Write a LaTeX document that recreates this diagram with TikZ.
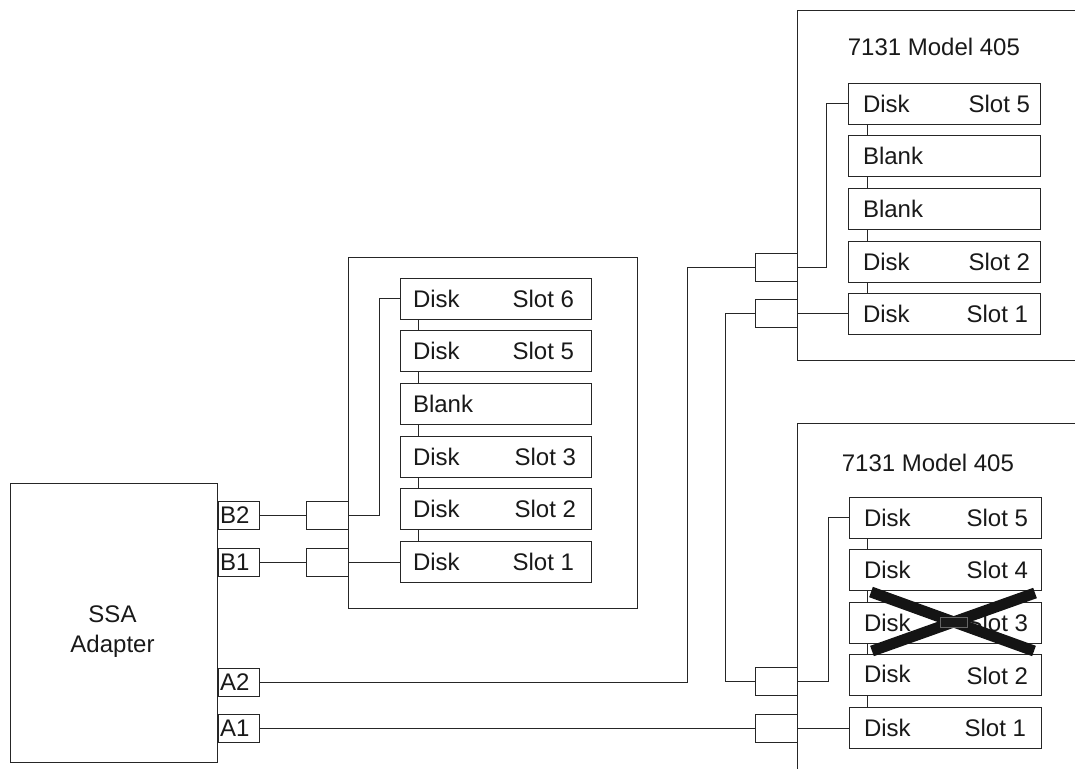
\documentclass[tikz,border=0pt]{standalone}
\usepackage{fontspec}
\setmainfont{Liberation Sans}
\begin{document}
\begin{tikzpicture}[x=1pt,y=-1pt,line width=1pt,
  every node/.style={font=\fontsize{24}{30}\selectfont, text=black!90},
  slotbox/.style={draw=black!85, minimum width=192, minimum height=41, inner sep=0pt},
  portbox/.style={draw=black!85, minimum width=41, minimum height=28, inner sep=0pt, anchor=west},
  connbox/.style={draw=black!85, minimum width=42, minimum height=28, inner sep=0pt},
  wire/.style={draw=black!85, line width=1pt}]
\useasboundingbox (0,0) rectangle (1075,769);
% SSA adapter
\node[draw=black!85, minimum width=207, minimum height=279, inner sep=0pt] (ssa) at (113.5,622.5) {};
\node[align=center] (ssatxt) at (112.5,632) {SSA\\Adapter};
\node[portbox] (B2) at (ssa.east |- 0,515) {\makebox[41pt][l]{\hspace{2pt}B2}};
\node[portbox] (B1) at (ssa.east |- 0,562) {\makebox[41pt][l]{\hspace{2pt}B1}};
\node[portbox] (A2) at (ssa.east |- 0,682) {\makebox[41pt][l]{\hspace{2pt}A2}};
\node[portbox] (A1) at (ssa.east |- 0,728) {\makebox[41pt][l]{\hspace{2pt}A1}};
% middle enclosure
\draw[wire] (348,257) rectangle (637,608);
\node[connbox] (cB2) at (327.5,515) {};
\node[connbox] (cB1) at (327.5,562) {};
\node[slotbox,minimum width=191] (m6) at (495.5,298.5) {\makebox[191pt]{\hspace{13pt}Disk\hfill Slot 6\hspace{17pt}}};
\node[slotbox,minimum width=191] (m5) at (495.5,351) {\makebox[191pt]{\hspace{13pt}Disk\hfill Slot 5\hspace{17pt}}};
\node[slotbox,minimum width=191] (m4) at (495.5,403.5) {\makebox[191pt][l]{\hspace{13pt}Blank}};
\node[slotbox,minimum width=191] (m3) at (495.5,456.5) {\makebox[191pt]{\hspace{13pt}Disk\hfill Slot 3\hspace{15pt}}};
\node[slotbox,minimum width=191] (m2) at (495.5,508.5) {\makebox[191pt]{\hspace{13pt}Disk\hfill Slot 2\hspace{15pt}}};
\node[slotbox,minimum width=191] (m1) at (495.5,562) {\makebox[191pt]{\hspace{13pt}Disk\hfill Slot 1\hspace{17pt}}};
\foreach \a/\b in {m6/m5,m5/m4,m4/m3,m3/m2,m2/m1}
  \draw[wire] ([xshift=19]\a.south west) -- ([xshift=19]\b.north west);
\draw[wire] (B2.east) -- (cB2.west);
\draw[wire] (B1.east) -- (cB1.west);
\draw[wire] (cB2.east) -- ++(30,0) |- (m6.west);
\draw[wire] (cB1.east) -- (m1.west);
% top-right enclosure
\draw[wire] (1075,10) -- (797,10) -- (797,360) -- (1075,360);
\node[anchor=west] (t1title) at (844,47) {7131 Model 405};
\node[connbox] (TR1) at (776,267) {};
\node[connbox] (TR2) at (776,313.5) {};
\node[slotbox] (t5) at (944,103.5) {\makebox[192pt]{\hspace{15pt}Disk\hfill Slot 5\hspace{10pt}}};
\node[slotbox] (t4) at (944,156) {\makebox[192pt][l]{\hspace{15pt}Blank}};
\node[slotbox] (t3) at (944,208.5) {\makebox[192pt][l]{\hspace{15pt}Blank}};
\node[slotbox] (t2) at (944,261.5) {\makebox[192pt]{\hspace{15pt}Disk\hfill Slot 2\hspace{10pt}}};
\node[slotbox] (t1) at (944,313.5) {\makebox[192pt]{\hspace{15pt}Disk\hfill Slot 1\hspace{12pt}}};
\foreach \a/\b in {t5/t4,t4/t3,t3/t2,t2/t1}
  \draw[wire] ([xshift=20]\a.south west) -- ([xshift=20]\b.north west);
\draw[wire] (TR1.east) -- ++(29,0) |- (t5.west);
\draw[wire] (TR2.east) -- (t1.west);
% bottom-right enclosure
\draw[wire] (1075,423) -- (797,423) -- (797,769);
\node[anchor=west] (t2title) at (838,463) {7131 Model 405};
\node[connbox] (BR1) at (776.5,681) {};
\node[connbox] (BR2) at (776.5,728) {};
\node[slotbox] (b5) at (945,517.5) {\makebox[192pt]{\hspace{15pt}Disk\hfill Slot 5\hspace{13pt}}};
\node[slotbox] (b4) at (945,569.5) {\makebox[192pt]{\hspace{15pt}Disk\hfill Slot 4\hspace{13pt}}};
\node[slotbox] (b3) at (945,622.5) {\makebox[192pt]{\hspace{15pt}Disk\hfill Slot 3\hspace{13pt}}};
\node[slotbox] (b2) at (945,675) {\makebox[192pt]{\hspace{15pt}Disk\hfill \raisebox{-2pt}{Slot 2}\hspace{13pt}}};
\node[slotbox] (b1) at (945,728) {\makebox[192pt]{\hspace{15pt}Disk\hfill Slot 1\hspace{15pt}}};
\foreach \a/\b in {b5/b4,b4/b3,b3/b2,b2/b1}
  \draw[wire] ([xshift=19]\a.south west) -- ([xshift=19]\b.north west);
\draw[wire] (BR1.east) -- ++(30,0) |- (b5.west);
\draw[wire] (BR2.east) -- (b1.west);
% long cables
\draw[wire] (A2.east) -- (687,682) |- (TR1.west);
\draw[wire] (TR2.west) -- (725,313.5) |- (BR1.west);
\draw[wire] (A1.east) -- (BR2.west);
% cross over slot 3
\draw[line width=11pt, black!92] (871,592) -- (1034,651);
\draw[line width=11pt, black!92] (872,651) -- (1035,593);
\draw[fill=black!90, draw=black!60, line width=1pt] (940,617) rectangle (967,627);
\end{tikzpicture}
\end{document}
